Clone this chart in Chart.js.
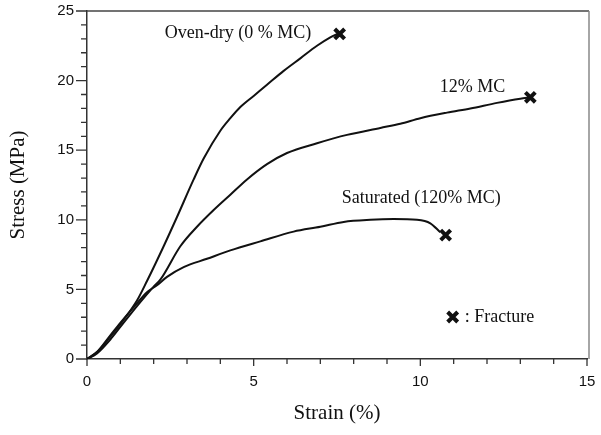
<!DOCTYPE html>
<html>
<head>
<meta charset="utf-8">
<script src="https://cdn.jsdelivr.net/npm/chart.js@4/dist/chart.umd.min.js"></script>
<style>
  html, body { margin: 0; padding: 0; background: #fff; }
  #wrap { width: 601px; height: 435px; }
</style>
</head>
<body>
<div id="wrap"><canvas id="chart" width="601" height="435"></canvas></div>
<script>
// stress-strain curves
const ovenStrain = [0, 0.3, 0.7, 1.0, 1.5, 1.8, 2.3, 2.7, 3.2, 3.5, 4.0, 4.3, 4.6, 5.0, 5.4, 5.9, 6.4, 6.9, 7.3, 7.55];
const ovenStress = [0, 0.5, 1.6, 2.5, 4.2, 5.6, 8.1, 10.2, 12.9, 14.4, 16.4, 17.3, 18.1, 18.9, 19.7, 20.7, 21.6, 22.5, 23.1, 23.4];

const mc12Strain = [0, 0.3, 0.7, 1.0, 1.5, 2.0, 2.2, 2.8, 3.3, 3.8, 4.3, 4.8, 5.4, 6.0, 6.9, 7.8, 8.8, 9.4, 10.0, 10.8, 11.5, 12.3, 13.0, 13.3];
const mc12Stress = [0, 0.4, 1.4, 2.3, 3.8, 5.2, 5.7, 8.1, 9.5, 10.7, 11.8, 12.9, 14.0, 14.8, 15.5, 16.1, 16.6, 16.9, 17.3, 17.7, 18.0, 18.4, 18.7, 18.8];

const satStrain = [0, 0.3, 0.7, 1.0, 1.5, 1.8, 2.1, 2.4, 2.9, 3.6, 4.3, 5.2, 6.2, 7.0, 7.7, 8.5, 9.2, 9.9, 10.3, 10.6];
const satStress = [0, 0.5, 1.7, 2.6, 4.0, 4.8, 5.3, 5.9, 6.6, 7.2, 7.8, 8.45, 9.15, 9.5, 9.85, 10.0, 10.05, 10.0, 9.75, 9.1];

const fractureStrain = [7.58, 13.3, 10.76];
const fractureStress = [23.35, 18.8, 8.9];

const curveLabels = ["Oven-dry (0 % MC)", "12% MC", "Saturated (120% MC)"];
const xTicks = [0, 5, 10, 15];
const yTicks = [0, 5, 10, 15, 20, 25];

const toPoints = (xs, ys) => xs.map((v, i) => ({ x: v, y: ys[i] }));

const serif = "'Liberation Serif', 'Times New Roman', serif";
const sans = "'Liberation Sans', Arial, sans-serif";

// minor/major ticks, frame, curve labels and the fracture key
const decorations = {
  id: "decorations",
  afterDraw(chart) {
    const { ctx, chartArea: a, scales: { x, y } } = chart;
    ctx.save();
    ctx.strokeStyle = "#333";
    ctx.lineWidth = 1.3;
    ctx.beginPath();
    for (let v = 0; v <= 15; v++) {
      const px = x.getPixelForValue(v);
      const len = v % 5 === 0 ? 7 : 5;
      ctx.moveTo(px, a.bottom);
      ctx.lineTo(px, a.bottom + len);
    }
    for (let v = 0; v <= 25; v++) {
      const py = y.getPixelForValue(v);
      const len = v % 5 === 0 ? 11 : 6;
      ctx.moveTo(a.left, py);
      ctx.lineTo(a.left - len, py);
    }
    ctx.stroke();

    // top and right frame
    ctx.beginPath();
    ctx.strokeStyle = "#444";
    ctx.lineWidth = 1.5;
    ctx.moveTo(a.left, a.top);
    ctx.lineTo(a.right + 2, a.top);
    ctx.stroke();
    ctx.beginPath();
    ctx.strokeStyle = "#888";
    ctx.moveTo(a.right + 2, a.top);
    ctx.lineTo(a.right + 2, a.bottom);
    ctx.stroke();

    // curve labels
    ctx.fillStyle = "#111";
    ctx.font = "18px " + serif;
    ctx.textBaseline = "middle";
    ctx.textAlign = "left";
    ctx.fillText(curveLabels[0], x.getPixelForValue(2.33), y.getPixelForValue(23.4));
    ctx.fillText(curveLabels[1], x.getPixelForValue(10.58), y.getPixelForValue(19.54));
    ctx.fillText(curveLabels[2], x.getPixelForValue(7.64), y.getPixelForValue(11.57));

    // fracture key
    const kx = x.getPixelForValue(10.97), ky = y.getPixelForValue(3.02);
    ctx.lineWidth = 4;
    ctx.strokeStyle = "#111";
    ctx.beginPath();
    ctx.moveTo(kx - 5, ky - 5); ctx.lineTo(kx + 5, ky + 5);
    ctx.moveTo(kx + 5, ky - 5); ctx.lineTo(kx - 5, ky + 5);
    ctx.stroke();
    ctx.fillText(": Fracture", x.getPixelForValue(11.33), ky);
    ctx.restore();
  }
};

const curveStyle = { showLine: true, pointRadius: 0, borderColor: "#111", borderWidth: 2, cubicInterpolationMode: "monotone", fill: false };

new Chart(document.getElementById("chart"), {
  type: "scatter",
  data: {
    datasets: [
      { label: curveLabels[0], data: toPoints(ovenStrain, ovenStress), ...curveStyle },
      { label: curveLabels[1], data: toPoints(mc12Strain, mc12Stress), ...curveStyle },
      { label: curveLabels[2], data: toPoints(satStrain, satStress), ...curveStyle },
      {
        label: "Fracture",
        data: toPoints(fractureStrain, fractureStress),
        pointStyle: "crossRot",
        pointRadius: 7,
        borderWidth: 4,
        borderColor: "#111",
        backgroundColor: "#111"
      }
    ]
  },
  options: {
    responsive: false,
    animation: false,
    layout: { padding: { top: 11, right: 14, left: 0, bottom: 0 } },
    plugins: { legend: { display: false }, tooltip: { enabled: false } },
    scales: {
      x: {
        type: "linear",
        min: 0, max: 15,
        afterBuildTicks: s => { s.ticks = xTicks.map(v => ({ value: v })); },
        afterFit: s => { s.height = 76; s.paddingLeft = 0; s.paddingRight = 0; },
        grid: { display: false, drawTicks: false },
        border: { display: true, color: "#333", width: 1.5 },
        ticks: { padding: 14, color: "#111", font: { family: sans, size: 15 } },
        title: { display: true, text: "Strain (%)", color: "#111", font: { family: serif, size: 21 }, padding: { bottom: 9 } }
      },
      y: {
        type: "linear",
        min: 0, max: 25,
        afterBuildTicks: s => { s.ticks = yTicks.map(v => ({ value: v })); },
        afterFit: s => { s.width = 87; s.paddingTop = 0; s.paddingBottom = 0; },
        grid: { display: false, drawTicks: false },
        border: { display: true, color: "#333", width: 1.5 },
        ticks: { padding: 13, color: "#111", font: { family: sans, size: 15 } },
        title: { display: true, text: "Stress (MPa)", color: "#111", font: { family: serif, size: 21 }, padding: { top: 6 } }
      }
    }
  },
  plugins: [decorations]
});
</script>
</body>
</html>
